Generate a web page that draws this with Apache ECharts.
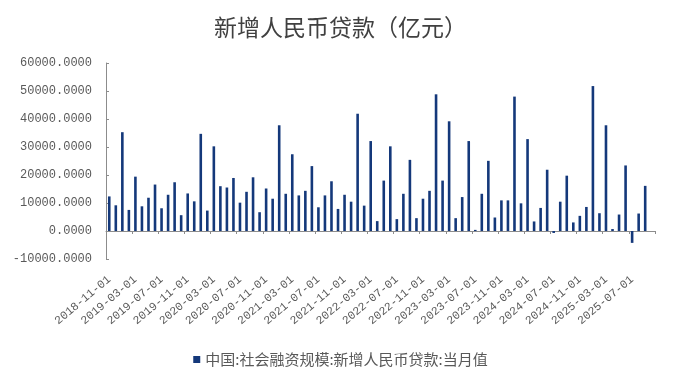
<!DOCTYPE html>
<html>
<head>
<meta charset="utf-8">
<script src="https://cdn.jsdelivr.net/npm/echarts@6/dist/echarts.min.js"></script>
<style>
  html, body { margin: 0; padding: 0; background: #fff; }
  #chart { width: 681px; height: 378px; }
</style>
</head>
<body>
<div id="chart"></div>
<script>
// 月份: 2018-11 ~ 2025-10（最后一个月无数据）
const months = [];
for (let y = 2018, m = 11; months.length < 84; m++) {
  if (m > 12) { m = 1; y++; }
  months.push(y + '-' + String(m).padStart(2, '0') + '-01');
}

// 新增人民币贷款 当月值（亿元）
const loanValues = [
  12350, 9180, 35290, 7530, 19410, 8820, 11880, 16590, 8120, 12940, 17410, 5650,
  13410, 10590, 34700, 7290, 30240, 16000, 15530, 18940, 10120, 14000, 19180, 6710,
  15180, 11530, 37760, 13290, 27410, 12710, 14350, 23180, 8470, 12710, 17760, 7880,
  12940, 10470, 41880, 9060, 32120, 3530, 18000, 30240, 4240, 13290, 25410, 4590,
  11530, 14350, 48820, 18000, 39180, 4590, 12120, 32120, 400, 13290, 25060, 4820,
  10940, 10940, 48000, 9880, 32820, 3410, 8240, 21880, -700, 10470, 19760, 3060,
  5410, 8590, 51760, 6350, 37760, 700, 5880, 23410, -4240, 6240, 16120, null
];

const seriesName = '中国:社会融资规模:新增人民币贷款:当月值';

const chart = echarts.init(document.getElementById('chart'));

const option = {
  animation: false,
  title: {
    text: '新增人民币贷款（亿元）',
    left: 'center',
    top: 11,
    textStyle: {
      fontFamily: 'Noto Sans CJK SC',
      fontSize: 23,
      fontWeight: 'normal',
      color: '#404040'
    }
  },
  legend: {
    left: 'center',
    top: 347,
    icon: 'rect',
    itemWidth: 7,
    itemHeight: 7,
    itemGap: 4,
    textStyle: {
      fontFamily: 'Noto Sans CJK SC',
      fontSize: 15,
      color: '#595959'
    },
    data: [seriesName]
  },
  grid: { left: 106, right: 26, top: 63, bottom: 119 },
  xAxis: [
    {
      type: 'category',
      data: months,
      position: 'bottom',
      boundaryGap: true,
      axisLine: { show: false, onZero: false },
      axisTick: { show: false },
      axisLabel: {
        interval: 3,
        rotate: 40,
        margin: 19,
        fontFamily: 'Liberation Mono',
        fontSize: 11.5,
        color: '#595959'
      }
    },
    {
      type: 'category',
      data: months,
      position: 'bottom',
      boundaryGap: true,
      axisLine: { show: true, onZero: true, lineStyle: { color: '#8c8c8c' } },
      axisTick: { show: true, interval: 3, length: 3, lineStyle: { color: '#8c8c8c' } },
      axisLabel: { show: false }
    }
  ],
  yAxis: {
    type: 'value',
    min: -10000,
    max: 60000,
    interval: 10000,
    axisLine: { show: true, lineStyle: { color: '#8c8c8c' } },
    axisTick: { show: true, inside: true, length: 3, lineStyle: { color: '#8c8c8c' } },
    splitLine: { show: false },
    axisLabel: {
      margin: 14,
      fontFamily: 'Liberation Mono',
      fontSize: 12,
      color: '#595959',
      formatter: v => v.toFixed(4)
    }
  },
  series: [
    {
      name: seriesName,
      type: 'bar',
      xAxisIndex: 0,
      barWidth: 2.6,
      itemStyle: { color: '#14387a' },
      data: loanValues
    }
  ]
};

chart.setOption(option);
window.addEventListener('resize', () => chart.resize());
</script>
</body>
</html>
